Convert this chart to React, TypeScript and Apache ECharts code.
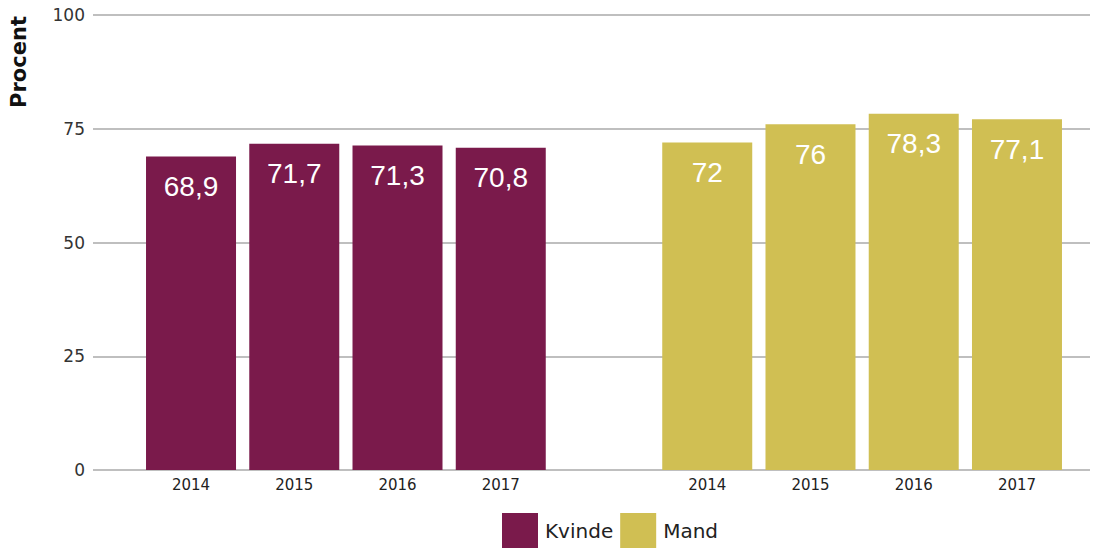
import React, { useEffect, useRef } from "react";
import * as echarts from "echarts";

const categories = ["2014", "2015", "2016", "2017", "", "2014", "2015", "2016", "2017"];
const kvinde = [68.9, 71.7, 71.3, 70.8, "-", "-", "-", "-", "-"];
const mand = ["-", "-", "-", "-", "-", 72, 76, 78.3, 77.1];
const yTicks = { min: 0, max: 100, interval: 25 };

const PURPLE = "#7a1a4b";
const YELLOW = "#d0bf53";

const fmt = (p: any) => String(p.value).replace(".", ",");

export default function App() {
  const ref = useRef<HTMLDivElement>(null);
  useEffect(() => {
    const chart = echarts.init(ref.current!, undefined, { renderer: "svg" });
    const labelCfg = {
      show: true,
      position: "insideTop",
      distance: 16,
      color: "#fff",
      fontSize: 28,
      fontFamily: "Liberation Sans",
      formatter: fmt,
    };
    chart.setOption({
      animation: false,
      backgroundColor: "#fff",
      textStyle: { fontFamily: "DejaVu Sans" },
      grid: [
        { left: 139.4, right: 36.4, top: 15, bottom: 78 },
        { left: 93, right: 15, top: 15, bottom: 78 },
      ],
      xAxis: [
        {
          type: "category",
          gridIndex: 0,
          data: categories,
          axisLine: { show: false },
          axisTick: { show: false },
          axisLabel: { fontSize: 15, color: "#222", margin: 7, fontFamily: "DejaVu Sans" },
        },
        { type: "value", gridIndex: 1, show: false, min: 0, max: 1 },
      ],
      yAxis: [
        { type: "value", gridIndex: 0, min: yTicks.min, max: yTicks.max, show: false },
        {
          type: "value",
          gridIndex: 1,
          min: yTicks.min,
          max: yTicks.max,
          interval: yTicks.interval,
          axisLine: { show: false },
          axisTick: { show: false },
          axisLabel: { fontSize: 17, color: "#333", margin: 8, fontFamily: "DejaVu Sans" },
          splitLine: { lineStyle: { color: "#bfbfbf", width: 2 } },
        },
      ],
      legend: {
        left: 497,
        top: 508,
        itemWidth: 36,
        itemHeight: 36,
        itemGap: 7,
        icon: "rect",
        textStyle: { fontSize: 20, color: "#222", fontFamily: "DejaVu Sans", padding: [0, 0, 0, 2] },
        data: ["Kvinde", "Mand"],
      },
      graphic: [
        {
          type: "text",
          x: 19,
          y: 62,
          rotation: Math.PI / 2,
          style: {
            text: "Procent",
            fontSize: 21,
            fontWeight: "bold",
            fontFamily: "DejaVu Sans",
            fill: "#111",
            textAlign: "center",
            textVerticalAlign: "middle",
          },
        },
      ],
      series: [
        {
          name: "Kvinde",
          type: "bar",
          xAxisIndex: 0,
          yAxisIndex: 0,
          data: kvinde,
          barWidth: 90,
          barGap: "-100%",
          itemStyle: { color: PURPLE },
          label: labelCfg,
        },
        {
          name: "Mand",
          type: "bar",
          xAxisIndex: 0,
          yAxisIndex: 0,
          data: mand,
          barWidth: 90,
          barGap: "-100%",
          itemStyle: { color: YELLOW },
          label: labelCfg,
        },
      ],
    });
    return () => chart.dispose();
  }, []);
  return (
    <div
      ref={ref}
      style={{ position: "fixed", left: 0, top: 0, width: 1105, height: 548 }}
    />
  );
}
